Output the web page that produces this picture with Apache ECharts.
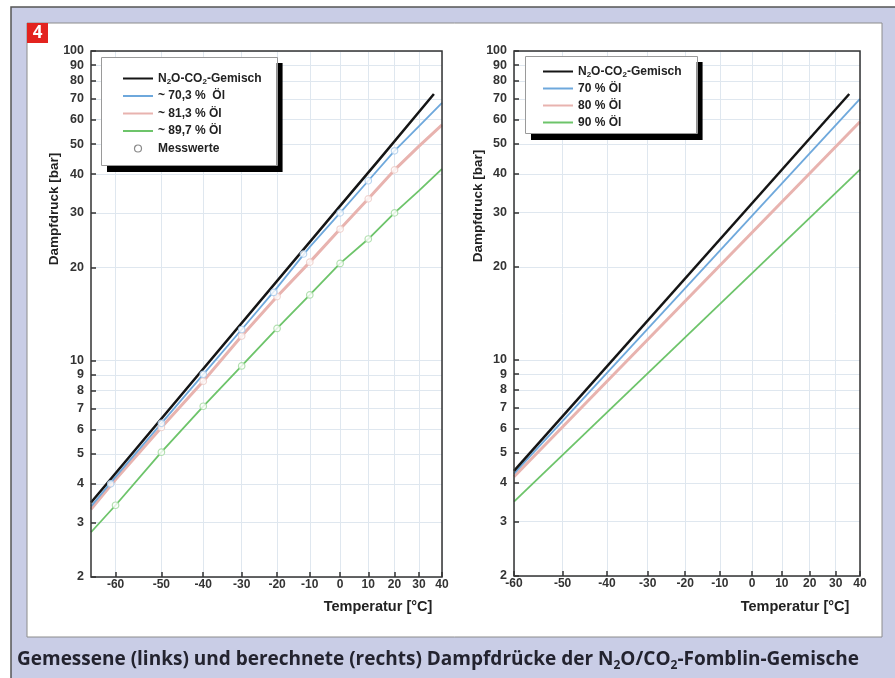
<!DOCTYPE html>
<html>
<head>
<meta charset="utf-8">
<script src="https://cdn.jsdelivr.net/npm/echarts@6/dist/echarts.min.js"></script>
<style>
  html, body { margin: 0; padding: 0; background: #fff; }
  #chart { width: 895px; height: 678px; }
</style>
</head>
<body>
<div id="chart"></div>
<script>
// temperatures in °C, pressures in bar
const yTicks = [2, 3, 4, 5, 6, 7, 8, 9, 10, 20, 30, 40, 50, 60, 70, 80, 90, 100];
const xTicks = [-60, -50, -40, -30, -20, -10, 0, 10, 20, 30, 40];

// left: measured
const tempLeft = [-65, -60, -50, -40, -30, -20, -10, 0, 10, 20, 30, 40];
const mixLeftTemp = [-65, 0, 14, 36.4];
const mixLeft = [3.48, 31.6, 44.5, 72.6];
const oil703 = [3.38, 4.21, 6.27, 9.03, 12.6, 17.2, 23.3, 30.0, 38.1, 47.6, 57.2, 68.0];
const oil813 = [3.31, 4.13, 6.08, 8.58, 12.0, 16.1, 20.8, 26.6, 33.3, 41.3, 49.3, 57.7];
const oil897 = [2.79, 3.41, 5.06, 7.12, 9.61, 12.7, 16.3, 20.6, 24.7, 30.0, 35.4, 41.6];

const measTemp703 = [-61, -50, -40, -30, -21, -12, 0, 10, 20];
const meas703 = [4.0, 6.27, 9.03, 12.6, 16.6, 22.1, 30.0, 38.1, 47.6];
const measTemp813 = [-50, -40, -30, -20, -10, 0, 10, 20];
const meas813 = [6.08, 8.58, 12.0, 16.1, 20.8, 26.6, 33.3, 41.3];
const measTemp897 = [-60, -50, -40, -30, -20, -10, 0, 10, 20];
const meas897 = [3.41, 5.06, 7.12, 9.61, 12.7, 16.3, 20.6, 24.7, 30.0];

// right: calculated
const tempRight = [-60, 40];
const mixRightTemp = [-60, 35.5];
const mixRight = [4.38, 72.6];
const oil70 = [4.29, 70.0];
const oil80 = [4.19, 59.0];
const oil90 = [3.48, 41.3];

const MIX = 'N2O-CO2-Gemisch';
const FONT = 'Liberation Sans';
const colors = { mix: '#151515', blue: '#6ea8dc', pink: '#e8b3af', green: '#6dc46a' };

// x axis is 1/T (Clausius-Clapeyron plot), y axis is log10(p)
const inv = t => -1000 / (t + 273.15);
const pts = (ts, vs) => ts.map((t, i) => [inv(t), Math.log10(vs[i])]);

const chart = echarts.init(document.getElementById('chart'));

function xAxis(gridIndex, minT) {
  return {
    type: 'value', gridIndex,
    min: inv(minT), max: inv(40),
    axisLine: { show: false },
    axisTick: { inside: true, length: 5, customValues: xTicks.map(inv),
      lineStyle: { color: '#333', width: 1.5 } },
    axisLabel: { customValues: xTicks.map(inv), margin: 2,
      formatter: v => String(Math.round(-1000 / v - 273.15)),
      color: '#333', fontFamily: FONT, fontSize: 12, fontWeight: 'bold' },
    splitLine: { show: true, lineStyle: { color: '#dfe7ef', width: 1 } }
  };
}
function yAxis(gridIndex) {
  return {
    type: 'value', gridIndex,
    min: Math.log10(2), max: 2,
    axisLine: { show: false },
    axisTick: { inside: true, length: 5, customValues: yTicks.map(Math.log10),
      lineStyle: { color: '#333', width: 1.5 } },
    axisLabel: { customValues: yTicks.map(Math.log10), margin: 7,
      formatter: v => String(Math.round(Math.pow(10, v))),
      color: '#333', fontFamily: FONT, fontSize: 12.5, fontWeight: 'bold' },
    splitLine: { show: true, lineStyle: { color: '#dfe7ef', width: 1 } }
  };
}
function line(name, idx, data, color, width) {
  return { name, type: 'line', xAxisIndex: idx, yAxisIndex: idx, data,
    symbol: 'none', lineStyle: { color, width }, itemStyle: { color }, z: 2 };
}
function marks(idx, data, color) {
  return { name: 'Messwerte', type: 'scatter', xAxisIndex: idx, yAxisIndex: idx, data,
    symbol: 'circle', symbolSize: 6.5,
    itemStyle: { color: '#fff', borderColor: color, borderWidth: 1.2 }, z: 4 };
}
const legendText = {
  fontFamily: FONT, fontSize: 12, fontWeight: 'bold', color: '#222', lineHeight: 15,
  rich: { s: { fontFamily: FONT, fontSize: 8, fontWeight: 'bold', color: '#222',
    lineHeight: 5, verticalAlign: 'bottom' } }
};
function legend(left, top, padding, gap, names) {
  return {
    orient: 'vertical', left, top, padding, itemGap: gap,
    itemWidth: 30, itemHeight: 7, selectedMode: false,
    backgroundColor: '#fff', borderWidth: 0,
    shadowColor: '#000', shadowBlur: 0, shadowOffsetX: 6, shadowOffsetY: 6,
    itemStyle: { opacity: 0 },
    data: names.map(n => n === 'Messwerte'
      ? { name: n, icon: 'circle',
          itemStyle: { opacity: 1, color: '#fff', borderColor: '#8a8a8a', borderWidth: 1.2 } }
      : n),
    formatter: n => n === MIX ? 'N{s|2}O-CO{s|2}-Gemisch' : n,
    textStyle: legendText
  };
}
const titleStyle = { fontFamily: FONT, fontSize: 13.5, fontWeight: 'bold', fill: '#222',
  align: 'center', verticalAlign: 'middle' };
const xTitleStyle = Object.assign({}, titleStyle, { fontSize: 14.5 });

chart.setOption({
  animation: false,
  backgroundColor: '#fff',
  grid: [
    { left: 91, top: 51, width: 351, height: 526, show: true, backgroundColor: 'transparent',
      borderColor: '#333', borderWidth: 1.5, z: 5, outerBoundsMode: 'none' },
    { left: 514, top: 51, width: 346, height: 525, show: true, backgroundColor: 'transparent',
      borderColor: '#333', borderWidth: 1.5, z: 5, outerBoundsMode: 'none' }
  ],
  xAxis: [xAxis(0, -65), xAxis(1, -60)],
  yAxis: [yAxis(0), yAxis(1)],
  legend: [
    legend(101, 57, [14, 15, 10, 21], 2.5, [MIX, '~ 70,3 %  Öl', '~ 81,3 % Öl', '~ 89,7 % Öl', 'Messwerte']),
    legend(525, 56, [8, 15, 4, 17], 2, [MIX, '70 % Öl', '80 % Öl', '90 % Öl'])
  ],
  series: [
    line('~ 89,7 % Öl', 0, pts(tempLeft, oil897), colors.green, 1.8),
    line('~ 81,3 % Öl', 0, pts(tempLeft, oil813), colors.pink, 3),
    line('~ 70,3 %  Öl', 0, pts(tempLeft, oil703), colors.blue, 1.8),
    line(MIX, 0, pts(mixLeftTemp, mixLeft), colors.mix, 2.5),
    marks(0, pts(measTemp897, meas897), '#9fd89c'),
    marks(0, pts(measTemp813, meas813), '#eccac6'),
    marks(0, pts(measTemp703, meas703), '#a9cbeb'),
    line('90 % Öl', 1, pts(tempRight, oil90), colors.green, 1.8),
    line('80 % Öl', 1, pts(tempRight, oil80), colors.pink, 3),
    line('70 % Öl', 1, pts(tempRight, oil70), colors.blue, 1.8),
    line(MIX, 1, pts(mixRightTemp, mixRight), colors.mix, 2.5)
  ],
  graphic: [
    { type: 'rect', z: -10, shape: { x: 11, y: 7, width: 900, height: 700 },
      style: { fill: '#c9cde6', stroke: '#555', lineWidth: 1.5 } },
    { type: 'rect', z: -9, shape: { x: 27, y: 23, width: 855, height: 614 },
      style: { fill: '#fff', stroke: '#8c8c8c', lineWidth: 1 } },
    { type: 'rect', z: -8, shape: { x: 27, y: 23, width: 21, height: 20 },
      style: { fill: '#e3231f' } },
    // thin frames of the two legend boxes
    { type: 'rect', z: 10, silent: true, shape: { x: 101.5, y: 57.5, width: 176, height: 108 },
      style: { fill: 'none', stroke: '#9a9a9a', lineWidth: 1 } },
    { type: 'rect', z: 10, silent: true, shape: { x: 525.5, y: 56.5, width: 172, height: 77 },
      style: { fill: 'none', stroke: '#9a9a9a', lineWidth: 1 } },
    { type: 'text', z: 10, x: 37.5, y: 33.5,
      style: { text: '4', fontFamily: 'Open Sans', fontSize: 17, fontWeight: 'bold', fill: '#fff',
        align: 'center', verticalAlign: 'middle' } },
    { type: 'text', z: 10, x: 54, y: 209, rotation: Math.PI / 2,
      style: Object.assign({ text: 'Dampfdruck [bar]' }, titleStyle) },
    { type: 'text', z: 10, x: 478, y: 206, rotation: Math.PI / 2,
      style: Object.assign({ text: 'Dampfdruck [bar]' }, titleStyle) },
    { type: 'text', z: 10, x: 378, y: 607,
      style: Object.assign({ text: 'Temperatur [°C]' }, xTitleStyle) },
    { type: 'text', z: 10, x: 795, y: 607,
      style: Object.assign({ text: 'Temperatur [°C]' }, xTitleStyle) },
    { type: 'text', z: 10, x: 17, y: 660,
      style: {
        text: 'Gemessene (links) und berechnete (rechts) Dampfdrücke der N{s|2}O/CO{s|2}-Fomblin-Gemische',
        fontFamily: 'Open Sans', fontSize: 19, fontWeight: 'bold', fill: '#23232f',
        lineHeight: 24, align: 'left', verticalAlign: 'middle',
        rich: { s: { fontFamily: 'Open Sans', fontSize: 12, fontWeight: 'bold', fill: '#23232f',
          lineHeight: 8, verticalAlign: 'bottom' } }
      } }
  ]
});
</script>
</body>
</html>
